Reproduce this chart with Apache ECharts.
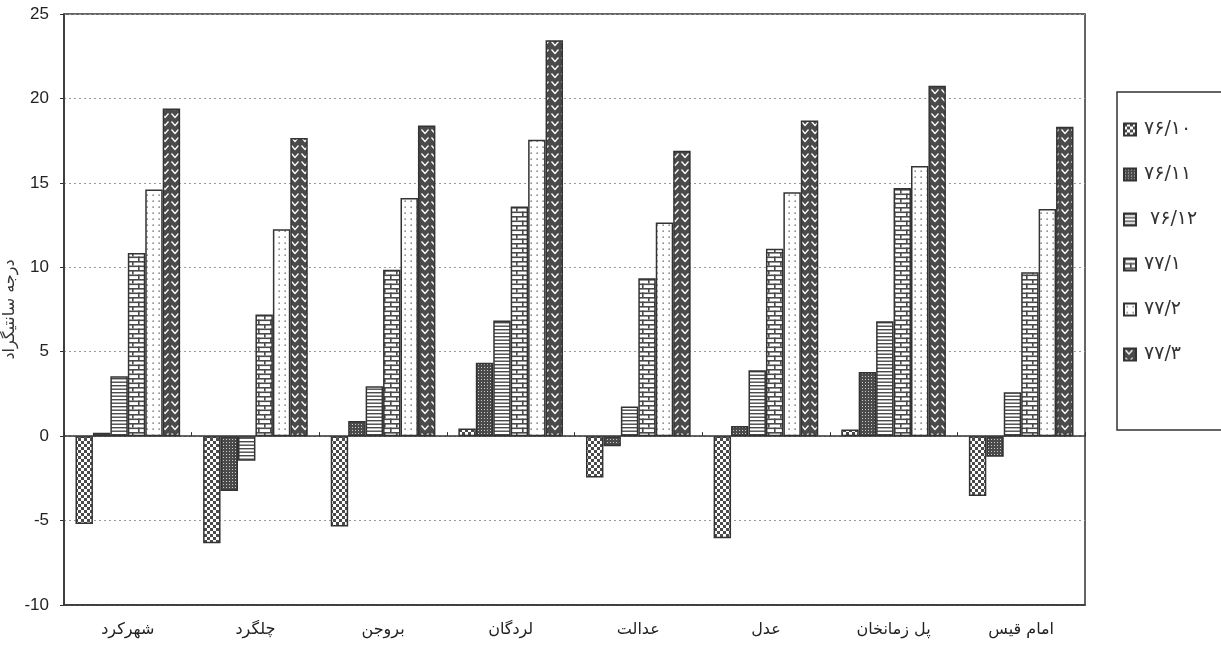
<!DOCTYPE html>
<html>
<head>
<meta charset="utf-8">
<script src="https://cdn.jsdelivr.net/npm/echarts@6/dist/echarts.min.js"></script>
<style>html,body{margin:0;padding:0;background:#fff}#c{width:1221px;height:650px}</style>
</head>
<body>
<div id="c"></div>
<script>
var categories = ['شهرکرد', 'چلگرد', 'بروجن', 'لردگان', 'عدالت', 'عدل', 'پل زمانخان', 'امام قیس'];
var seriesNames = ['۷۶/۱۰', '۷۶/۱۱', ' ۷۶/۱۲', '۷۷/۱', '۷۷/۲', '۷۷/۳'];
var s7610 = [-5.2, -6.35, -5.35, 0.45, -2.45, -6.05, 0.4, -3.55];
var s7611 = [0.2, -3.25, 0.9, 4.35, -0.6, 0.6, 3.8, -1.22];
var s7612 = [3.55, -1.45, 2.95, 6.85, 1.75, 3.9, 6.8, 2.6];
var s7701 = [10.85, 7.2, 9.85, 13.6, 9.35, 11.1, 14.7, 9.7];
var s7702 = [14.6, 12.25, 14.1, 17.55, 12.65, 14.45, 16.0, 13.45];
var s7703 = [19.4, 17.65, 18.4, 23.45, 16.9, 18.7, 20.75, 18.33];
var yTicks = {min: -10, max: 25, interval: 5};
var yName = 'درجه سانتیگراد';

var DARK = '#4a4a4a';
function tile(w, h, draw) {
  var c = document.createElement('canvas');
  c.width = w; c.height = h;
  var g = c.getContext('2d');
  draw(g, w, h);
  return {image: c, repeat: 'repeat'};
}
var patterns = [
  tile(6, 6, function (g) { g.fillStyle = '#fff'; g.fillRect(0,0,6,6); g.fillStyle = DARK; g.fillRect(0,0,3,3); g.fillRect(3,3,3,3); }),
  tile(3, 3, function (g) { g.fillStyle = DARK; g.fillRect(0,0,3,3); g.fillStyle = '#ccc'; g.fillRect(1,1,1,1); }),
  tile(4, 7, function (g) { g.fillStyle = '#fff'; g.fillRect(0,0,4,7); g.fillStyle = DARK; g.fillRect(0,0,4,1.4); g.fillRect(0,3.5,4,1.4); }),
  tile(12, 9, function (g) { g.fillStyle = '#fff'; g.fillRect(0,0,12,9); g.fillStyle = DARK; g.fillRect(0,0,12,1.6); g.fillRect(0,4.5,12,1.6); g.fillRect(0,0,1.6,4.5); g.fillRect(6,4.5,1.6,4.5); }),
  tile(6, 6, function (g) { g.fillStyle = '#fff'; g.fillRect(0,0,6,6); g.fillStyle = '#555'; g.fillRect(2.5,2.5,1.3,1.3); }),
  tile(10, 8, function (g) { g.fillStyle = DARK; g.fillRect(0,0,10,8); g.strokeStyle = '#fff'; g.lineWidth = 1.3; g.beginPath(); g.moveTo(1.5,1.5); g.lineTo(5,5.5); g.lineTo(8.5,1.5); g.stroke(); })
];
var dataList = [s7610, s7611, s7612, s7701, s7702, s7703];

var series = dataList.map(function (d, i) {
  return {
    name: seriesNames[i], type: 'bar', data: d, xAxisIndex: 0,
    barGap: '0%', barCategoryGap: '18%',
    itemStyle: {color: patterns[i], borderColor: '#333', borderWidth: 1.5},
    emphasis: {disabled: true}
  };
});

var chart = echarts.init(document.getElementById('c'), null, {renderer: 'canvas'});
chart.setOption({
  animation: false,
  backgroundColor: '#fff',
  grid: {left: 64, right: 136, top: 14, bottom: 45, show: true, borderColor: '#333', borderWidth: 1.5, backgroundColor: 'transparent', containLabel: false, outerBoundsMode: 'none'},
  legend: {
    orient: 'vertical', left: 1117, top: 92,
    padding: [28, 60, 66, 6], itemGap: 26,
    itemWidth: 12, itemHeight: 12, icon: 'rect',
    borderColor: '#333', borderWidth: 1.5,
    textStyle: {fontSize: 19, color: '#333', fontFamily: 'DejaVu Sans', padding: [0, 0, 0, 3]},
    data: seriesNames
  },
  xAxis: [{
    type: 'category', data: categories, position: 'bottom',
    axisLine: {onZero: false, lineStyle: {color: '#333', width: 1.5}},
    axisTick: {show: false},
    axisLabel: {fontSize: 16, color: '#222', margin: 17, fontFamily: 'DejaVu Sans'},
    splitLine: {show: false}
  }, {
    type: 'category', data: categories, position: 'top',
    axisLine: {onZero: true, lineStyle: {color: '#333', width: 1.5}},
    axisTick: {show: true, length: 4, lineStyle: {color: '#333'}},
    axisLabel: {show: false},
    splitLine: {show: false}
  }],
  yAxis: {
    type: 'value', min: yTicks.min, max: yTicks.max, interval: yTicks.interval,
    name: yName, nameLocation: 'middle', nameGap: 46, nameRotate: 90, nameMoveOverlap: false,
    nameTextStyle: {fontSize: 16, color: '#333', fontFamily: 'DejaVu Sans'},
    axisLine: {show: true, lineStyle: {color: '#333', width: 1.5}},
    axisTick: {show: true, length: 4, lineStyle: {color: '#333'}},
    axisLabel: {fontSize: 17, color: '#222', margin: 15, fontFamily: 'Liberation Sans'},
    splitLine: {show: true, lineStyle: {color: '#999', type: [2, 3], width: 1}}
  },
  series: series
});
</script>
</body>
</html>
